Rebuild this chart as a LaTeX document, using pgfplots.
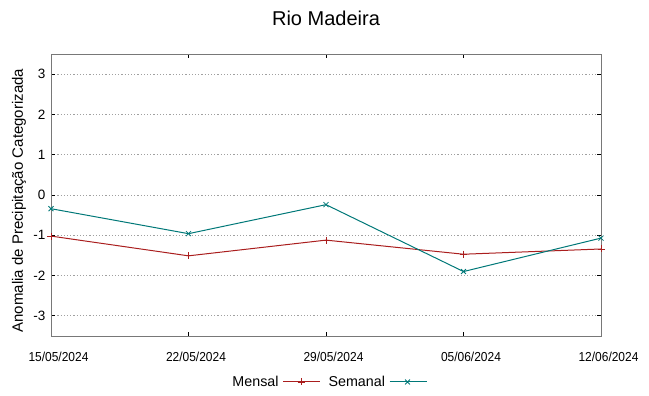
\documentclass[border=0pt]{standalone}
\usepackage{fontspec}
\setmainfont{Liberation Sans}
\newfontfamily\narrowfont[FakeStretch=0.92]{Liberation Sans}
\usepackage{pgfplots}
\pgfplotsset{compat=1.18}
\definecolor{mensal}{RGB}{170,30,30}
\definecolor{semanal}{RGB}{0,120,120}
\definecolor{framegray}{RGB}{120,120,120}
\definecolor{gridgray}{RGB}{160,160,160}
\begin{document}
\begin{tikzpicture}
\path[use as bounding box] (0,0) rectangle (649bp,396bp);
\begin{axis}[
  at={(51bp,60bp)}, anchor=south west,
  scale only axis, width=550bp, height=282bp,
  xmin=0, xmax=28, ymin=-3.5, ymax=3.5,
  xtick={0,7,14,21,28},
  xticklabels={15/05/2024,22/05/2024,29/05/2024,05/06/2024,12/06/2024},
  ytick={-3,-2,-1,0,1,2,3},
  yticklabels={-3,-2,-1,0,1,2,3},
  xticklabel style={font=\narrowfont\fontsize{13bp}{15bp}\selectfont, anchor=base, yshift=-25bp, xshift=7.5bp},
  yticklabel style={font=\fontsize{13.5bp}{15bp}\selectfont, xshift=-2bp},
  tick align=inside, major tick length=4bp,
  tick style={black, line width=0.8bp},
  axis line style={framegray, line width=1bp},
  ymajorgrids, grid style={gridgray, dash pattern=on 1.2bp off 2bp, line width=0.8bp},
  title={Rio Madeira},
  title style={font=\fontsize{20bp}{24bp}\selectfont, at={(axis description cs:0.5,1.1004)}, anchor=base, yshift=-6pt},
  ylabel={Anomalia de Precipitação Categorizada},
  ylabel style={font=\fontsize{15bp}{18bp}\selectfont, at={(axis description cs:-0.058,0.48)}, anchor=center},
  clip=false,
  legend columns=2,
  legend plot pos=right,
  legend style={draw=none, fill=none, at={(axis description cs:0.505,-0.163)}, anchor=center,
    font=\fontsize{14.3bp}{16bp}\selectfont,
    /tikz/every even column/.append style={column sep=6bp},
    /tikz/every odd column/.append style={column sep=2bp}},
  legend image code/.code={\draw[mark repeat=2,mark phase=2] plot coordinates {(0bp,0bp) (18bp,0bp) (37bp,0bp)};},
]
\addplot[mensal, line width=1bp, mark=+, mark size=3.5bp, mark options={line width=0.8bp}] coordinates {
(0,-1.02) (7,-1.51) (14,-1.12) (21,-1.47) (28,-1.34)};
\addlegendentry{Mensal}
\addplot[semanal, line width=1bp, mark=x, mark size=3.5bp, mark options={line width=0.8bp}] coordinates {
(0,-0.34) (7,-0.96) (14,-0.24) (21,-1.90) (28,-1.07)};
\addlegendentry{Semanal}
\end{axis}
\end{tikzpicture}
\end{document}
